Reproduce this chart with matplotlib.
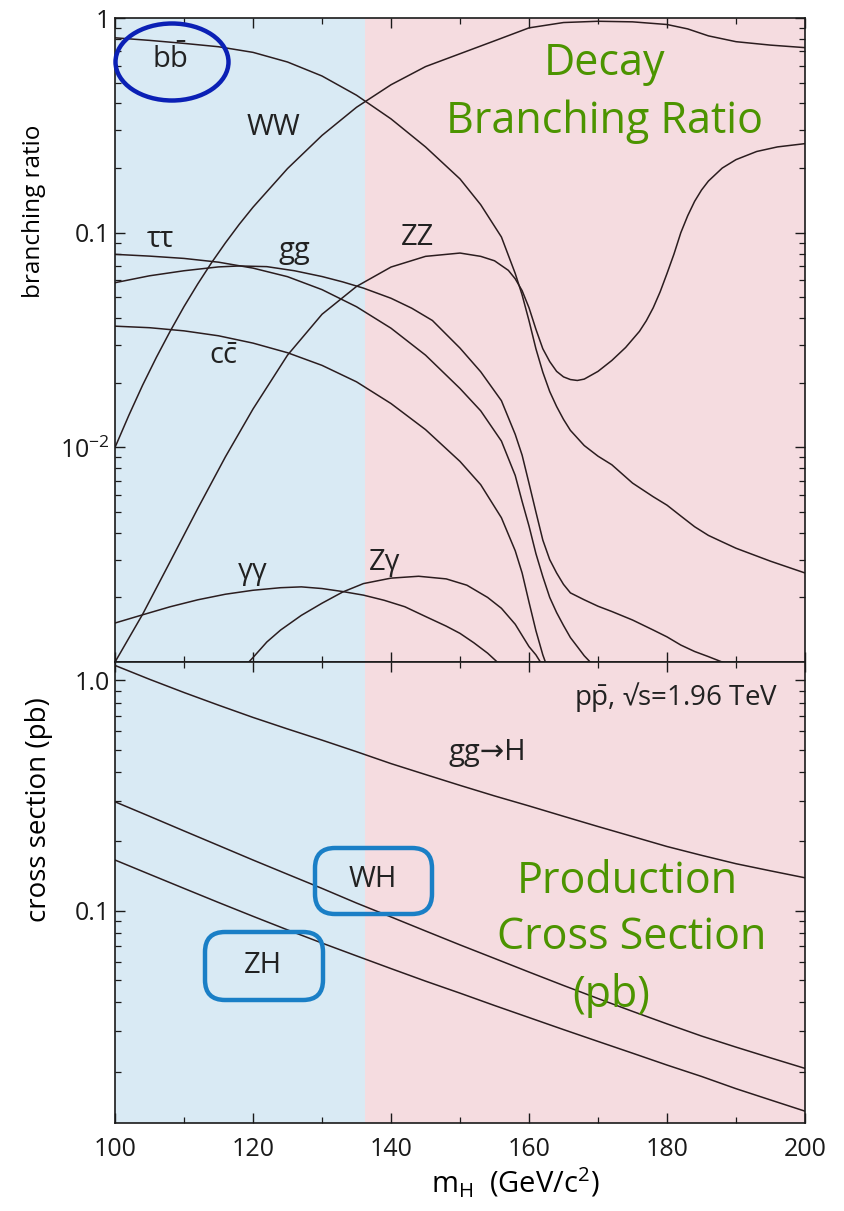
import matplotlib
matplotlib.use("Agg")
import matplotlib.pyplot as plt
from matplotlib import patches
from matplotlib.ticker import LogLocator, NullFormatter, FixedLocator, FixedFormatter, MultipleLocator

plt.rcParams['font.family'] = ['Open Sans', 'DejaVu Sans']
plt.rcParams['mathtext.fontset'] = 'custom'
plt.rcParams['mathtext.rm'] = 'Open Sans'
plt.rcParams['mathtext.it'] = 'Open Sans:italic'

# Higgs decay branching ratios vs mass (GeV)
bb_x = [100, 105, 110, 115, 120, 125, 130, 135, 140, 145, 150, 153, 156, 158, 159, 160, 161, 162, 163, 164, 165, 166, 168, 170, 172, 175, 178, 180, 182, 184, 186, 188, 190, 195, 200]
bb_y = [0.809, 0.787, 0.762, 0.735, 0.692, 0.624, 0.537, 0.437, 0.339, 0.251, 0.178, 0.135, 0.0955, 0.0646, 0.0513, 0.0389, 0.0288, 0.0224, 0.0182, 0.0155, 0.0135, 0.012, 0.0102, 0.0091, 0.0083, 0.00682, 0.00589, 0.00538, 0.00479, 0.00427, 0.00389, 0.00363, 0.00339, 0.00295, 0.0026]

ww_x = [100, 102, 104, 106, 108, 110, 112, 114, 116, 118, 120, 125, 130, 135, 140, 145, 150, 155, 160, 165, 170, 175, 180, 183, 186, 190, 195, 200]
ww_y = [0.01, 0.0141, 0.0195, 0.0263, 0.0348, 0.0453, 0.0578, 0.0726, 0.0897, 0.1094, 0.1315, 0.199, 0.284, 0.384, 0.489, 0.594, 0.682, 0.783, 0.9, 0.953, 0.966, 0.96, 0.933, 0.89, 0.826, 0.776, 0.748, 0.728]

zz_x = [100, 104, 108, 112, 116, 120, 125, 130, 135, 140, 145, 150, 153, 155, 157, 158, 159, 160, 161, 162, 163, 164, 165, 166, 167, 168, 170, 172, 174, 176, 177, 178, 179, 180, 181, 182, 183, 184, 185, 186, 188, 190, 193, 196, 200]
zz_y = [0.001, 0.00167, 0.00294, 0.0052, 0.00904, 0.0151, 0.0269, 0.0417, 0.0562, 0.0692, 0.0776, 0.0804, 0.0776, 0.074, 0.0668, 0.061, 0.0537, 0.0447, 0.0355, 0.0288, 0.0251, 0.0226, 0.0213, 0.0207, 0.0205, 0.0208, 0.0226, 0.0254, 0.0292, 0.0347, 0.0389, 0.0447, 0.053, 0.0646, 0.0794, 0.1, 0.12, 0.14, 0.158, 0.174, 0.2, 0.219, 0.239, 0.251, 0.26]

tautau_x = [100, 105, 110, 115, 120, 125, 130, 135, 140, 145, 150, 153, 156, 158, 159, 160, 161, 162, 163, 164, 165, 166, 167, 168, 169, 170]
tautau_y = [0.0793, 0.0778, 0.0759, 0.0729, 0.0684, 0.0624, 0.0543, 0.0452, 0.0359, 0.0269, 0.0188, 0.0148, 0.0107, 0.0074, 0.0056, 0.0043, 0.0032, 0.0025, 0.002, 0.0017, 0.00148, 0.0013, 0.00118, 0.00107, 0.00099, 0.00093]

cc_x = [100, 105, 110, 115, 120, 125, 130, 135, 140, 145, 150, 153, 156, 158, 159, 160, 161, 162, 163]
cc_y = [0.0367, 0.0361, 0.0349, 0.0331, 0.0306, 0.0276, 0.0241, 0.0202, 0.016, 0.0121, 0.0086, 0.0067, 0.0047, 0.0033, 0.0026, 0.0019, 0.0014, 0.00108, 0.00088]

gg_x = [100, 105, 110, 115, 118, 122, 126, 130, 133, 136, 140, 143, 146, 150, 153, 156, 158, 159, 160, 161, 162, 163, 164, 165, 166, 168, 170, 172, 175, 178, 180, 182, 184, 186, 188, 190]
gg_y = [0.0585, 0.063, 0.0665, 0.0693, 0.070, 0.0695, 0.0665, 0.0625, 0.059, 0.0552, 0.0495, 0.0445, 0.039, 0.029, 0.0225, 0.0165, 0.0115, 0.0092, 0.0068, 0.005, 0.0037, 0.003, 0.0026, 0.0023, 0.0021, 0.00195, 0.00182, 0.00172, 0.00157, 0.00141, 0.00131, 0.0012, 0.00112, 0.00106, 0.001, 0.00095]

aa_x = [100, 104, 108, 112, 116, 120, 124, 127, 130, 133, 136, 139, 142, 145, 148, 150, 152, 154, 156]
aa_y = [0.00152, 0.00166, 0.00181, 0.00195, 0.00207, 0.00216, 0.00222, 0.00224, 0.0022, 0.00213, 0.00205, 0.00194, 0.00181, 0.00163, 0.00147, 0.00136, 0.00123, 0.0011, 0.00096]

za_x = [119, 120, 122, 124, 127, 130, 133, 136, 140, 144, 148, 151, 154, 156, 158, 159, 160, 161, 162]
za_y = [0.00097, 0.00105, 0.00124, 0.00141, 0.00165, 0.00188, 0.00212, 0.00232, 0.00246, 0.00251, 0.00244, 0.00228, 0.002, 0.00178, 0.0015, 0.00133, 0.00118, 0.00108, 0.00096]

# Tevatron production cross sections (pb)
mass = [100, 105, 110, 115, 120, 125, 130, 135, 140, 145, 150, 155, 160, 165, 170, 175, 180, 185, 190, 195, 200]
ggh_xs = [1.16, 1.01, 0.885, 0.78, 0.69, 0.615, 0.55, 0.49, 0.435, 0.39, 0.35, 0.315, 0.285, 0.257, 0.232, 0.21, 0.19, 0.174, 0.16, 0.149, 0.139]
wh_xs = [0.297, 0.257, 0.222, 0.192, 0.166, 0.144, 0.125, 0.108, 0.094, 0.0817, 0.0711, 0.0621, 0.0542, 0.0474, 0.0416, 0.0366, 0.0323, 0.0286, 0.0256, 0.023, 0.0207]
zh_xs = [0.166, 0.144, 0.125, 0.1086, 0.0946, 0.0826, 0.0724, 0.0637, 0.0561, 0.0495, 0.0439, 0.0388, 0.0344, 0.0305, 0.0271, 0.0241, 0.0214, 0.0191, 0.0169, 0.0151, 0.0135]

split_mass = 136.2
blue_bg = '#d9eaf4'
pink_bg = '#f5dce0'
line_col = '#2b1d1f'
green = '#4c9400'

fig = plt.figure(figsize=(8.44, 12.11), dpi=100)
ax1 = fig.add_axes([0.1363, 0.4533, 0.8175, 0.5318])
ax2 = fig.add_axes([0.1363, 0.0727, 0.8175, 0.3806], sharex=ax1)

for ax in (ax1, ax2):
    ax.axvspan(100, split_mass, color=blue_bg, lw=0, zorder=0)
    ax.axvspan(split_mass, 200, color=pink_bg, lw=0, zorder=0)
    ax.set_yscale('log')
    ax.set_xlim(100, 200)
    ax.xaxis.set_major_locator(MultipleLocator(20))
    ax.xaxis.set_minor_locator(MultipleLocator(10))
    ax.tick_params(which='both', direction='in', top=True, right=True, labelsize=18, colors='#1a1a1a')
    ax.tick_params(which='major', length=7, width=1.0)
    ax.tick_params(which='minor', length=4, width=0.9)
    for s in ax.spines.values():
        s.set_linewidth(1.2)
        s.set_color('#1a1a1a')

# top panel: branching ratios
for xs, ys in [(bb_x, bb_y), (ww_x, ww_y), (zz_x, zz_y), (tautau_x, tautau_y),
               (cc_x, cc_y), (gg_x, gg_y), (aa_x, aa_y), (za_x, za_y)]:
    ax1.plot(xs, ys, color=line_col, lw=1.1)
ax1.set_ylim(1e-3, 1)
ax1.yaxis.set_major_locator(FixedLocator([1e-2, 0.1, 1]))
ax1.yaxis.set_major_formatter(FixedFormatter([r'$10^{-2}$', '0.1', '1']))
ax1.yaxis.set_minor_locator(LogLocator(base=10, subs=range(2, 10)))
ax1.yaxis.set_minor_formatter(NullFormatter())
ax1.tick_params(axis='x', labelbottom=False)
ax1.set_ylabel('branching ratio', fontsize=17.5, va='center')
ax1.yaxis.set_label_coords(-0.118, 0.70)

lab = dict(fontsize=21, color='#222222', ha='center', va='center')
ax1.text(108, 0.64, r'$\mathrm{b\bar{b}}$', **lab)
ax1.text(123, 0.31, 'WW', **lab)
ax1.text(106.5, 0.093, 'ττ', **lab)
ax1.text(126, 0.083, 'gg', **lab)
ax1.text(115.7, 0.0266, r'$\mathrm{c\bar{c}}$', **lab)
ax1.text(143.8, 0.095, 'ZZ', **lab)
ax1.text(120, 0.00265, 'γγ', **lab)
ax1.text(139.1, 0.0029, 'Zγ', **lab)
ax1.text(171, 0.61, 'Decay', fontsize=31, color=green, ha='center', va='center')
ax1.text(171, 0.328, 'Branching Ratio', fontsize=31, color=green, ha='center', va='center')

# bottom panel: production cross sections
for ys in (ggh_xs, wh_xs, zh_xs):
    ax2.plot(mass, ys, color=line_col, lw=1.1)
ax2.set_ylim(0.012, 1.2)
ax2.yaxis.set_major_locator(FixedLocator([0.1, 1.0]))
ax2.yaxis.set_major_formatter(FixedFormatter(['0.1', '1.0']))
ax2.yaxis.set_minor_locator(LogLocator(base=10, subs=range(2, 10)))
ax2.yaxis.set_minor_formatter(NullFormatter())
ax2.set_xticks([100, 120, 140, 160, 180, 200])
ax2.set_xticklabels(['100', '120', '140', '160', '180', '200'])
ax2.tick_params(axis='x', pad=10)
ax2.set_ylabel('cross section (pb)', fontsize=20, va='center')
ax2.yaxis.set_label_coords(-0.11, 0.68)
ax2.set_xlabel(r'm$_\mathrm{H}$  (GeV/c$^2$)', fontsize=21, va='center')
ax2.xaxis.set_label_coords(0.58, -0.13)

ax2.text(196.1, 0.844, r'$\mathrm{p\bar{p}}$, √s=1.96 TeV', fontsize=20, color='#222222', ha='right', va='center')
ax2.text(153.9, 0.488, 'gg→H', **lab)
ax2.text(137.4, 0.136, 'WH', **lab)
ax2.text(121.4, 0.0578, 'ZH', **lab)
ax2.text(174.2, 0.1335, 'Production', fontsize=31, color=green, ha='center', va='center')
ax2.text(174.9, 0.0764, 'Cross Section', fontsize=31, color=green, ha='center', va='center')
ax2.text(171.9, 0.0429, '(pb)', fontsize=31, color=green, ha='center', va='center')

# highlight shapes drawn in figure inches so corners stay round
fig.add_artist(patches.Ellipse((1.72, 11.49), 1.13, 0.77, transform=fig.dpi_scale_trans,
                               fill=False, ec='#0b20b5', lw=3.2))
fig.add_artist(patches.FancyBboxPatch((3.15, 2.97), 1.17, 0.66, boxstyle='round,pad=0,rounding_size=0.2',
                                      transform=fig.dpi_scale_trans, fill=False, ec='#1a7fc6', lw=3.2))
fig.add_artist(patches.FancyBboxPatch((2.05, 2.11), 1.18, 0.68, boxstyle='round,pad=0,rounding_size=0.2',
                                      transform=fig.dpi_scale_trans, fill=False, ec='#1a7fc6', lw=3.2))

fig.savefig('out.png', dpi=100)
